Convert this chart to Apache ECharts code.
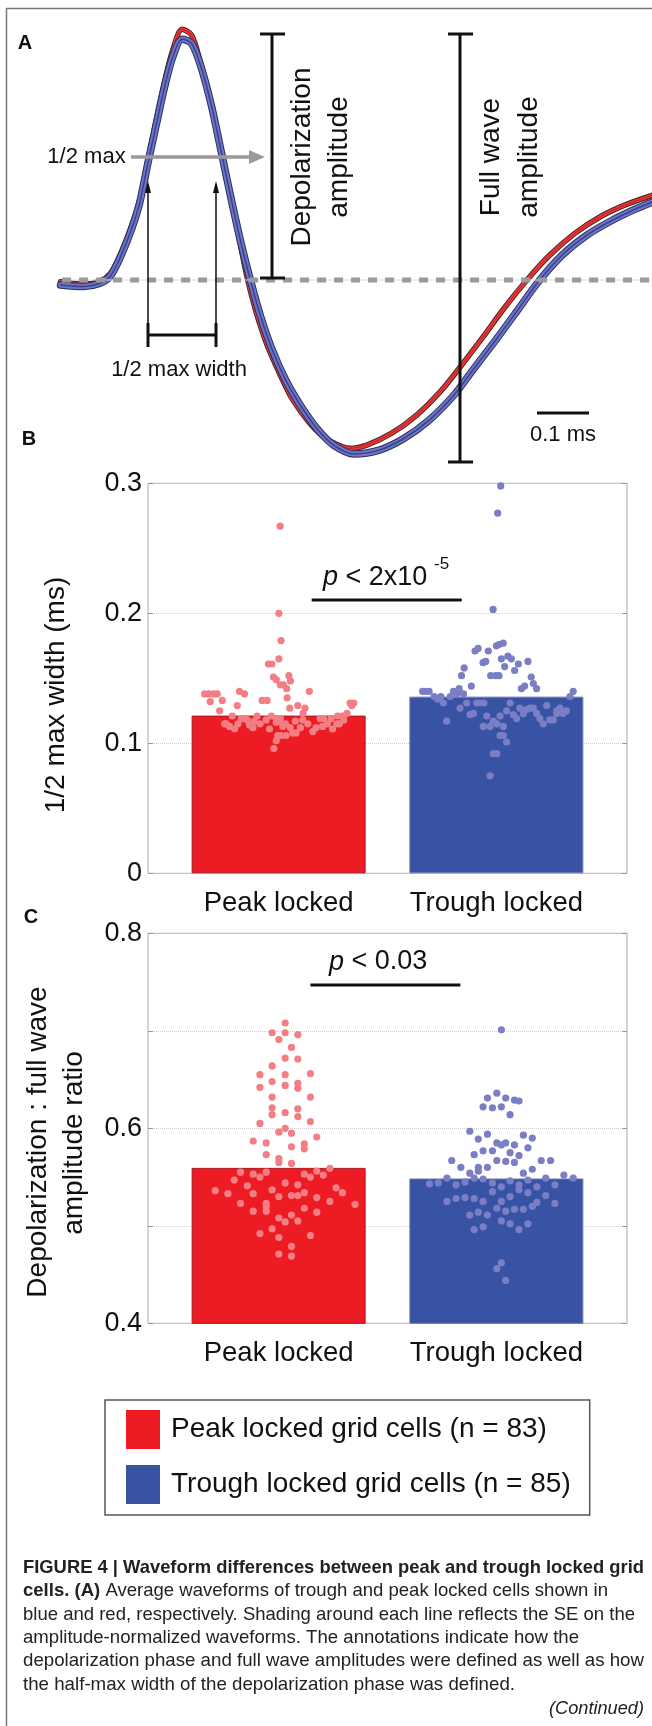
<!DOCTYPE html>
<html><head><meta charset="utf-8">
<script src="https://cdn.jsdelivr.net/npm/echarts@6/dist/echarts.min.js"></script>
<style>html,body{margin:0;padding:0;background:#fff}#c{width:652px;height:1726px}</style>
</head><body><div id="c"></div>
<script>
// ---------------- DATA ----------------
const catLabels = ['Peak locked', 'Trough locked'];
const legendNames = ['Peak locked grid cells (n = 83)', 'Trough locked grid cells (n = 85)'];

// Panel A: average normalized waveforms (time in ms, amplitude normalized)
const redT = [0.001,0.045,0.077,0.097,0.117,0.137,0.153,0.169,0.185,0.201,0.217,0.235,0.253,0.269,0.289,0.309,0.329,0.345,0.361,0.377,0.397,0.422,0.446,0.478,0.510,0.542,0.558,0.590,0.638,0.686,0.734,0.770,0.814,0.854,0.898,0.942,0.990,1.039,1.087,1.141];
const redV = [-0.007,-0.016,-0.004,0.026,0.106,0.212,0.317,0.476,0.635,0.787,0.913,0.995,0.972,0.873,0.714,0.516,0.317,0.159,0.000,-0.126,-0.251,-0.370,-0.470,-0.562,-0.628,-0.661,-0.668,-0.655,-0.608,-0.536,-0.437,-0.344,-0.225,-0.112,0.000,0.099,0.185,0.251,0.298,0.337];
const blueT = [0.001,0.045,0.077,0.097,0.117,0.137,0.153,0.169,0.185,0.201,0.217,0.235,0.253,0.271,0.291,0.311,0.331,0.349,0.367,0.385,0.407,0.434,0.462,0.494,0.526,0.566,0.614,0.662,0.710,0.758,0.794,0.838,0.878,0.920,0.966,1.014,1.063,1.103,1.141];
const blueV = [-0.020,-0.026,-0.013,0.016,0.095,0.198,0.304,0.463,0.615,0.765,0.886,0.955,0.939,0.847,0.694,0.500,0.304,0.139,-0.007,-0.139,-0.271,-0.397,-0.496,-0.589,-0.655,-0.690,-0.675,-0.628,-0.556,-0.456,-0.357,-0.238,-0.126,-0.007,0.099,0.179,0.238,0.278,0.311];
const waveXMax = 1.1385;

// Panel B: 1/2 max width (ms)
const meanWidthB = [0.1213, 0.1359];
const peakJitB = [0.007,0.001,0.011,0.001,-0.047,-0.031,-0.024,-0.011,0.047,0.054,0.008,0.022,0.037,0.141,0.039,-0.340,-0.322,-0.299,-0.282,-0.180,-0.157,-0.259,-0.314,-0.076,-0.053,-0.190,-0.271,0.088,0.051,0.121,0.112,0.328,0.345,0.336,-0.213,-0.099,-0.034,-0.157,-0.011,0.008,0.271,0.294,0.314,-0.172,-0.144,0.004,0.190,0.207,-0.241,-0.225,-0.202,-0.134,-0.118,-0.085,-0.042,-0.011,-0.004,0.011,0.034,0.065,0.080,0.100,0.134,0.157,0.172,0.225,0.248,0.279,-0.022,0.031,0.053,-0.011,0.267,-0.248,-0.057,-0.111,0.077,0.111,0.241,0.299,-0.187,0.019,0.202];
const peakValB = [0.267,0.200,0.179,0.165,0.161,0.161,0.151,0.149,0.152,0.148,0.145,0.145,0.142,0.140,0.135,0.138,0.138,0.138,0.138,0.140,0.138,0.133,0.132,0.133,0.133,0.129,0.125,0.129,0.127,0.127,0.123,0.131,0.131,0.129,0.121,0.121,0.121,0.119,0.119,0.119,0.121,0.121,0.123,0.119,0.118,0.117,0.119,0.119,0.115,0.113,0.111,0.114,0.112,0.115,0.111,0.102,0.106,0.106,0.106,0.108,0.108,0.112,0.115,0.109,0.112,0.115,0.111,0.115,0.096,0.115,0.112,0.116,0.115,0.115,0.118,0.117,0.117,0.118,0.119,0.118,0.115,0.113,0.113];
const troughJitB = [0.020,0.006,-0.015,0.000,0.012,0.031,-0.098,-0.084,-0.037,0.023,0.053,0.069,-0.061,-0.049,0.038,0.101,0.145,0.084,-0.148,-0.160,-0.026,-0.003,0.012,0.160,-0.339,-0.324,-0.309,-0.286,-0.270,-0.255,-0.243,-0.212,-0.197,-0.182,-0.171,-0.151,-0.115,-0.167,-0.136,-0.121,-0.105,-0.090,-0.075,-0.228,-0.060,-0.044,-0.029,-0.014,0.002,0.017,0.032,0.017,0.032,0.047,-0.014,0.002,-0.029,0.047,0.063,0.078,0.093,0.108,0.124,0.139,0.154,0.170,0.185,0.200,0.215,0.231,0.246,0.261,0.277,0.292,0.307,0.322,0.338,0.353,0.115,0.130,0.170,0.185,-0.263,0.277,-0.057];
const troughValB = [0.298,0.277,0.203,0.175,0.176,0.177,0.171,0.173,0.171,0.165,0.167,0.165,0.162,0.163,0.159,0.161,0.163,0.156,0.158,0.152,0.152,0.152,0.152,0.151,0.140,0.140,0.140,0.136,0.134,0.136,0.131,0.136,0.140,0.138,0.142,0.138,0.144,0.127,0.131,0.122,0.123,0.131,0.131,0.117,0.113,0.121,0.113,0.117,0.115,0.121,0.113,0.106,0.106,0.101,0.092,0.092,0.075,0.125,0.131,0.122,0.119,0.127,0.123,0.126,0.127,0.127,0.123,0.119,0.115,0.129,0.118,0.118,0.125,0.127,0.123,0.125,0.136,0.140,0.142,0.144,0.146,0.142,0.135,0.123,0.131];

// Panel C: depolarization : full wave amplitude ratio
const meanRatioC = [0.5594, 0.5485];
const peakJitC = [0.030,-0.030,0.030,0.088,0.001,0.059,0.030,0.088,-0.030,-0.086,0.030,0.146,-0.030,0.088,0.088,-0.086,0.030,-0.030,0.146,-0.030,0.088,-0.030,0.030,0.088,-0.086,0.146,0.030,0.001,0.059,0.175,-0.117,-0.057,0.118,0.118,0.059,-0.057,0.001,0.001,0.059,0.235,-0.175,-0.117,-0.086,-0.057,0.118,0.146,0.175,0.205,-0.204,-0.144,-0.030,0.030,0.088,-0.291,-0.233,-0.117,0.001,0.059,0.118,0.175,0.264,0.293,-0.175,-0.057,0.235,0.351,-0.117,-0.057,0.118,0.175,0.001,0.030,0.059,0.088,-0.030,-0.086,0.146,0.001,0.059,0.001,0.059,-0.057,0.088];
const peakValC = [0.708,0.698,0.698,0.696,0.691,0.683,0.672,0.671,0.664,0.655,0.655,0.656,0.648,0.646,0.641,0.642,0.644,0.632,0.632,0.621,0.620,0.614,0.616,0.612,0.605,0.607,0.600,0.596,0.595,0.591,0.587,0.585,0.584,0.579,0.581,0.573,0.569,0.565,0.564,0.559,0.555,0.553,0.550,0.555,0.553,0.550,0.556,0.552,0.547,0.541,0.537,0.544,0.542,0.536,0.533,0.533,0.530,0.531,0.534,0.529,0.539,0.534,0.523,0.523,0.525,0.522,0.515,0.515,0.518,0.514,0.508,0.504,0.511,0.505,0.497,0.492,0.490,0.488,0.479,0.471,0.469,0.520,0.531];
const troughJitC = [0.023,0.002,-0.041,0.043,0.083,0.104,-0.061,-0.018,0.023,0.063,-0.122,-0.083,-0.041,0.124,0.165,0.002,0.023,0.043,0.083,0.145,-0.061,-0.018,0.063,-0.102,0.104,-0.205,0.002,0.043,0.083,0.206,0.249,-0.163,-0.083,-0.041,-0.122,-0.083,0.124,0.165,-0.227,-0.102,-0.061,0.310,0.353,0.227,-0.307,-0.267,-0.185,-0.144,-0.018,0.063,0.104,0.145,0.186,0.269,-0.018,0.023,0.104,0.145,0.063,0.227,-0.227,-0.185,-0.144,-0.102,-0.061,0.023,0.002,0.043,0.083,0.124,0.165,0.186,0.269,-0.122,-0.083,-0.041,0.023,0.063,0.145,-0.102,-0.061,0.104,0.023,0.002,0.043];
const troughValC = [0.701,0.636,0.631,0.631,0.629,0.628,0.622,0.621,0.622,0.614,0.597,0.589,0.594,0.593,0.590,0.585,0.583,0.585,0.583,0.580,0.577,0.577,0.575,0.573,0.572,0.567,0.567,0.566,0.565,0.567,0.567,0.560,0.560,0.560,0.554,0.556,0.554,0.558,0.549,0.549,0.548,0.552,0.549,0.549,0.543,0.544,0.542,0.545,0.544,0.546,0.542,0.547,0.540,0.542,0.535,0.540,0.537,0.534,0.530,0.531,0.525,0.528,0.529,0.528,0.525,0.525,0.518,0.515,0.517,0.517,0.520,0.524,0.523,0.511,0.514,0.511,0.505,0.502,0.502,0.496,0.499,0.496,0.462,0.456,0.444];

// ---------------- STYLE ----------------
const FONT = '"Liberation Sans", Arial, Helvetica, sans-serif';
const RED = '#ed1c24', BLUE = '#3853a4', RED_DOT = '#f37e83', BLUE_DOT = '#7a7ec4', INK = '#111';

const zip = (a, b) => a.map((x, i) => [x, b[i]]);
const jit = (center, j, v) => j.map((d, i) => [center + d, v[i]]);

const mctx = document.createElement('canvas').getContext('2d');
function tw(text, size, weight, style) {
  mctx.font = (style || 'normal') + ' ' + (weight || 'normal') + ' ' + size + 'px ' + FONT;
  return mctx.measureText(text).width;
}

// ---------------- GRAPHIC ANNOTATIONS ----------------
const G = [];
function ln(x1, y1, x2, y2, w, c) {
  G.push({ type: 'line', silent: true, z: 50, shape: { x1, y1, x2, y2 }, style: { stroke: c || INK, lineWidth: w || 3 } });
}
function poly(pts, c) { G.push({ type: 'polygon', silent: true, z: 50, shape: { points: pts }, style: { fill: c || INK } }); }
function txt(t, x, y, o) {
  o = o || {};
  G.push({ type: 'text', silent: true, z: 60, x, y, rotation: o.rot || 0, scaleX: o.sx || 1,
    style: Object.assign({ text: t, fontSize: o.size || 28, fontFamily: FONT, fill: o.fill || INK,
      fontWeight: o.weight || 'normal', fontStyle: o.style || 'normal',
      align: o.align || 'center', verticalAlign: 'middle' }, o.extra || {}) });
}

// frame
ln(6, 8.5, 652, 8.5, 1.5, '#777');
ln(6.5, 8, 6.5, 1726, 1.5, '#777');

// panel letters
txt('A', 25, 43, { size: 20, weight: 'bold' });
txt('B', 29, 439, { size: 20, weight: 'bold' });
txt('C', 31, 917, { size: 20, weight: 'bold' });

// Panel A annotations
ln(131, 157, 252, 157, 3.5, '#9a9a9a');
poly([[249, 150], [265, 157], [249, 164]], '#9a9a9a');
txt('1/2 max', 86.5, 157, { size: 22 });
[148, 216].forEach(x => {
  ln(x, 347, x, 188, 1.5);
  poly([[x - 3, 193], [x, 181], [x + 3, 193]]);
  ln(x, 323, x, 347, 3);
});
ln(148, 335, 216, 335, 3);
txt('1/2 max width', 179, 370, { size: 22 });
ln(272, 34, 272, 278, 3); ln(260, 34, 285, 34, 3); ln(260, 278, 285, 278, 3);
ln(460, 34, 460, 462, 3); ln(448, 34, 473, 34, 3); ln(448, 462, 473, 462, 3);
txt('Depolarization', 302, 157, { rot: Math.PI / 2 });
txt('amplitude', 339, 157, { rot: Math.PI / 2 });
txt('Full wave', 491, 157, { rot: Math.PI / 2 });
txt('amplitude', 529, 157, { rot: Math.PI / 2 });
ln(537, 413, 589, 413, 3);
txt('0.1 ms', 563, 435, { size: 22 });

// axis titles
txt('1/2 max width (ms)', 56, 695, { rot: Math.PI / 2 });
txt('Depolarization : full wave', 38.5, 1142, { rot: Math.PI / 2 });
txt('amplitude ratio', 74, 1143, { rot: Math.PI / 2 });

// p-values
const richI = { i: { fontStyle: 'italic', fontSize: 27, fontFamily: FONT, fill: INK } };
txt('{i|p} < 2x10', 323, 577.5, { size: 27, align: 'left', extra: { rich: richI } });
txt('-5', 434, 564, { size: 17, align: 'left' });
ln(311.7, 600, 461.7, 600, 3);
txt('{i|p} < 0.03', 329, 962, { size: 27, align: 'left', extra: { rich: richI } });
ln(310.4, 985, 460.4, 985, 3);

// caption
const capSize = 19;
const capLines = [
  { t: 'FIGURE 4 | Waveform differences between peak and trough locked grid', y: 1567.6, w: 621, bold: true },
  { t: ' Average waveforms of trough and peak locked cells shown in', pre: 'cells. (A)', y: 1591, w: 585 },
  { t: 'blue and red, respectively. Shading around each line reflects the SE on the', y: 1614.3, w: 612 },
  { t: 'amplitude-normalized waveforms. The annotations indicate how the', y: 1637.6, w: 556 },
  { t: 'depolarization phase and full wave amplitudes were defined as well as how', y: 1661, w: 621 },
  { t: 'the half-max width of the depolarization phase was defined.', y: 1685, w: 492 }
];
capLines.forEach(l => {
  if (l.pre) {
    const width = tw(l.pre, capSize, 'bold') + tw(l.t, capSize);
    txt('{b|' + l.pre + '}' + l.t, 23, l.y, { size: capSize, align: 'left', fill: '#222', sx: l.w / width,
      extra: { rich: { b: { fontWeight: 'bold', fontSize: capSize, fontFamily: FONT, fill: '#222' } } } });
  } else {
    const width = tw(l.t, capSize, l.bold ? 'bold' : 'normal');
    txt(l.t, 23, l.y, { size: capSize, align: 'left', fill: '#222', weight: l.bold ? 'bold' : 'normal', sx: l.w / width });
  }
});
txt('(Continued)', 644, 1709, { size: capSize, align: 'right', style: 'italic', fill: '#222',
  sx: 95 / tw('(Continued)', capSize, 'normal', 'italic') });

// ---------------- AXES ----------------
const lab = { fontSize: 27, color: INK, fontFamily: FONT };
function catX(gi) {
  return { type: 'value', gridIndex: gi, min: 0.4, max: 2.6,
    axisLine: { show: false }, axisTick: { show: false }, splitLine: { show: false },
    axisLabel: Object.assign({}, lab, { fontSize: 27.5, margin: 16, customValues: [1, 2],
      formatter: v => catLabels[Math.round(v) - 1] || '' }) };
}
function valY(gi, min, max, fmt, right) {
  return { type: 'value', gridIndex: gi, min, max, interval: 0.1, position: right ? 'right' : 'left',
    axisLine: { show: false },
    axisTick: { show: true, inside: true, length: 5, lineStyle: { color: '#999' } },
    splitLine: { show: !right, lineStyle: { color: '#cfcfcf', type: 'dotted', width: 1 } },
    axisLabel: right ? { show: false } : Object.assign({}, lab, { margin: 6, formatter: fmt }) };
}
const fmtB = v => (Math.abs(v) < 1e-9 ? '0' : v.toFixed(1));
const fmtC = v => { const k = Math.round(v * 10); return k % 2 === 0 ? (k / 10).toFixed(1) : ''; };

function wave(data, color, width, z) {
  return { type: 'line', xAxisIndex: 0, yAxisIndex: 0, data, showSymbol: false, smooth: 0.3, silent: true,
    lineStyle: { color, width, cap: 'round', join: 'round' }, z };
}
function bar(name, xi, yi, x, v, color, border) {
  return { type: 'bar', name, xAxisIndex: xi, yAxisIndex: yi, data: [[x, v]], barWidth: 174, barGap: '-100%',
    clip: true, silent: true, itemStyle: { color, borderColor: border, borderWidth: 1 }, z: 2 };
}
function dots(xi, yi, data, color) {
  return { type: 'scatter', xAxisIndex: xi, yAxisIndex: yi, data, symbolSize: 7.2, silent: true,
    itemStyle: { color, opacity: 1 }, z: 4 };
}

const option = {
  animation: false,
  backgroundColor: '#fff',
  grid: [
    { left: 60, top: 28, width: 592, height: 453.6, show: false },
    { left: 148, top: 483.3, width: 479, height: 390, show: true, borderColor: '#aaa', borderWidth: 1 },
    { left: 148, top: 933.3, width: 479, height: 390, show: true, borderColor: '#aaa', borderWidth: 1 }
  ],
  xAxis: [
    { type: 'value', gridIndex: 0, min: 0, max: waveXMax, show: false },
    catX(1), catX(2)
  ],
  yAxis: [
    { type: 'value', gridIndex: 0, min: -0.8, max: 1.0, show: false },
    valY(1, 0, 0.3, fmtB), valY(2, 0.4, 0.8, fmtC),
    valY(1, 0, 0.3, fmtB, true), valY(2, 0.4, 0.8, fmtC, true)
  ],
  legend: {
    orient: 'vertical', left: 105, top: 1400, padding: [10, 19, 11, 21], itemGap: 16,
    itemWidth: 34, itemHeight: 39, icon: 'rect', selectedMode: false,
    borderColor: '#555', borderWidth: 1.5, backgroundColor: '#fff',
    itemStyle: { borderWidth: 0 },
    textStyle: { fontSize: 28, color: INK, fontFamily: FONT, padding: [0, 0, 0, 6] },
    data: [{ name: legendNames[0], itemStyle: { color: RED } }, { name: legendNames[1], itemStyle: { color: BLUE } }]
  },
  graphic: G,
  series: [
    // Panel A waveforms (SE shading approximated by layered strokes)
    wave(zip(redT, redV), '#4a2626', 5.5, 3),
    wave(zip(redT, redV), '#f0393c', 3.5, 4),
    wave(zip(redT, redV), '#c81a1e', 1, 5),
    wave(zip(blueT, blueV), '#2c2f5e', 7.5, 6),
    wave(zip(blueT, blueV), '#6d75c6', 5.5, 7),
    wave(zip(blueT, blueV), '#38408f', 1.5, 8),
    { type: 'line', xAxisIndex: 0, yAxisIndex: 0, data: [[0.004, 0], [waveXMax, 0]], showSymbol: false, silent: true,
      lineStyle: { color: '#dcdcdc', width: 1 }, z: 9 },
    { type: 'line', xAxisIndex: 0, yAxisIndex: 0, data: [[0.004, 0], [waveXMax, 0]], showSymbol: false, silent: true,
      lineStyle: { color: '#9a9a9a', width: 5, type: [9, 8] }, z: 10 },
    // Panel B
    bar(legendNames[0], 1, 1, 1, meanWidthB[0], RED, '#a8161c'),
    bar(legendNames[1], 1, 1, 2, meanWidthB[1], BLUE, '#6f79ad'),
    dots(1, 1, jit(1, peakJitB, peakValB), RED_DOT),
    dots(1, 1, jit(2, troughJitB, troughValB), BLUE_DOT),
    // Panel C
    bar(legendNames[0], 2, 2, 1, meanRatioC[0], RED, '#a8161c'),
    bar(legendNames[1], 2, 2, 2, meanRatioC[1], BLUE, '#6f79ad'),
    dots(2, 2, jit(1, peakJitC, peakValC), RED_DOT),
    dots(2, 2, jit(2, troughJitC, troughValC), BLUE_DOT)
  ]
};

const chart = echarts.init(document.getElementById('c'), null, { renderer: 'canvas' });
chart.setOption(option);
</script></body></html>
